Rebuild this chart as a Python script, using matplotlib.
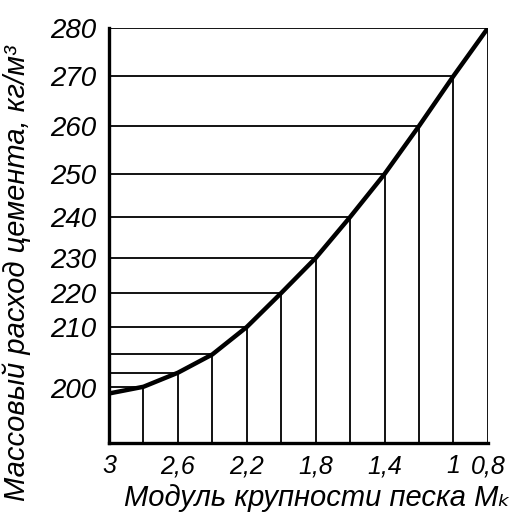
import numpy as np
import matplotlib
matplotlib.use("Agg")
import matplotlib.pyplot as plt

# Modulus of sand fineness (x) and cement consumption (y)
mk_vals = [3.0, 2.8, 2.6, 2.4, 2.2, 2.0, 1.8, 1.6, 1.4, 1.2, 1.0, 0.8]
cement_vals = [199, 200.2, 202.5, 205.5, 210, 220, 230, 240, 250, 260, 270, 280]

x_ticks = [3.0, 2.6, 2.2, 1.8, 1.4, 1.0, 0.8]
x_tick_labels = ["3", "2,6", "2,2", "1,8", "1,4", "1", "0,8"]
y_ticks = [200, 210, 220, 230, 240, 250, 260, 270, 280]
y_tick_labels = ["200", "210", "220", "230", "240", "250", "260", "270", "280"]

# the printed value axis is not evenly spaced, so use a piecewise scale
scale_vals = [190, 200, 210, 220, 230, 240, 250, 260, 270, 280]
scale_pos = [0, 55, 116, 150, 185, 226, 269, 317, 367, 415]

def fwd(v):
    return np.interp(v, scale_vals, scale_pos)

def inv(p):
    return np.interp(p, scale_pos, scale_vals)

tick_font = ["Liberation Sans", "DejaVu Sans"]
label_font = ["Liberation Sans", "DejaVu Sans"]

fig = plt.figure(figsize = (5.17, 5.24), dpi = 100)
ax = fig.add_axes([0.2108, 0.1546, 0.733, 0.792])
ax.set_yscale("function", functions = (fwd, inv))

ax.set_xlim(3.0, 0.8)
ax.set_ylim(190, 280)

# grid of verticals up to the curve and horizontals from the axis to it
for mk, c in zip(mk_vals[1:], cement_vals[1:]):
    ax.plot([mk, mk], [190, c], color = "black", lw = 1.3, solid_capstyle = "butt")
    ax.plot([3.0, mk], [c, c], color = "black", lw = 1.3, solid_capstyle = "butt")

ax.plot(mk_vals, cement_vals, color = "black", lw = 3.2, solid_capstyle = "round")

for side in ["top", "right"]:
    ax.spines[side].set_visible(False)
for side in ["left", "bottom"]:
    ax.spines[side].set_linewidth(2.4)

ax.set_xticks(x_ticks)
ax.set_xticklabels(x_tick_labels, family = tick_font, style = "italic", fontsize = 18)
ax.set_yticks(y_ticks)
ax.set_yticklabels(y_tick_labels, family = tick_font, style = "italic", fontsize = 20)
ax.tick_params(axis = "x", length = 0, pad = 8)
ax.tick_params(axis = "y", length = 0, pad = 9)
ax.minorticks_off()

ax.set_xlabel("Модуль крупности песка Mₖ", family = label_font, style = "italic",
              fontsize = 21)
ax.set_ylabel("Массовый расход цемента, кг/м³", family = label_font, style = "italic",
              fontsize = 21)
ax.xaxis.set_label_coords(0.551, -0.10)
ax.yaxis.set_label_coords(-0.205, 0.41)

fig.savefig("out.png", dpi = 100)
